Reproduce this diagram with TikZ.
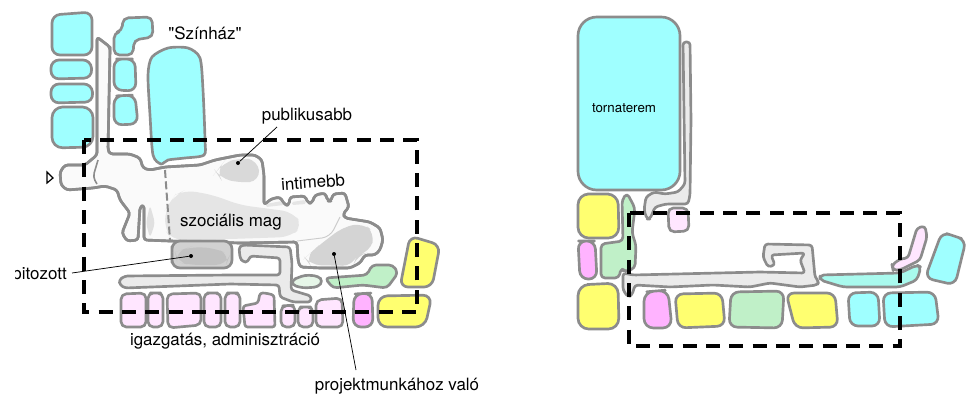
\documentclass[tikz,border=0pt]{standalone}
\usepackage{fontspec}
\usetikzlibrary{calc}
\setmainfont{TeX Gyre Heros}
\newfontfamily\plainquote{TeX Gyre Heros}
\definecolor{wall}{HTML}{8C8C8C}
\definecolor{cy}{HTML}{9FFFFF}
\definecolor{pk}{HTML}{FFE6FF}
\definecolor{mg}{HTML}{FFB3FF}
\definecolor{yl}{HTML}{FFFF70}
\definecolor{gr}{HTML}{C0F0C8}
\tikzset{
 x=.75pt,y=-.75pt,
 room/.style={draw=wall,line width=2pt,line join=round,rounded corners=#1},
 room/.default=6pt,
 cyanroom/.style={room,fill=cy},
 pinkroom/.style={room=4pt,fill=pk},
 magroom/.style={room,fill=mg},
 yelroom/.style={room,fill=yl},
 greenroom/.style={room,fill=gr},
 corr/.style={room=2.2pt,fill=#1},
 corr/.default={black!8},
 patch/.style={fill=#1,rounded corners=8pt},
 frame/.style={draw=black,line width=2.6pt,dash pattern=on 10.5pt off 7pt,line join=miter},
 lab/.style={font=\fontsize{12.7pt}{14pt}\selectfont,inner sep=0pt,text=black},
 lead/.style={draw=black,line width=.55pt},
 dot/.style={circle,fill=black,inner sep=0pt,minimum size=3pt},
}
\newcommand\blob[4][]{\path[#1] ($#2!.5!#3$) -- #3 #4 -- #2 -- cycle;}
\begin{document}
\begin{tikzpicture}
\useasboundingbox (0,0) rectangle (967,397);
% ---- left plan: circulation body
\def\bodyrest{--(110,50)--(108,150)--(110,154)--(130,154)--(140,158)--(143,168)--(150,170)--(165,167)--(200,165)--(215,160)--(240,155)--(255,155)--(262,160)--(264,175)--(264,205)
 --(271,199)--(280,197)--(285,205)--(289,205)--(290,197)--(305,196)--(308,203)--(312,203)--(315,195)--(325,193)--(328,201)--(331,201)--(333,194)--(345,193)--(349,207)--(343,214)
 --(345,218)--(370,222)--(380,228)--(383,240)--(380,250)--(375,255)--(365,255)--(360,263)--(350,268)--(320,268)--(300,267)--(298,260)--(297,242)
 --(240,243)--(170,241)--(144,240)--(144,205)--(140,207)--(138,240)--(127,241)--(122,233)--(130,213)--(120,200)--(117,190)--(105,186)--(93,188)--(67,190)--(61,185)--(60,172)--(65,165)--(85,165)--(97,155)--(97,150)}
\blob[room=2.2pt,fill=black!2]{(97,37)}{(110,47)}{\bodyrest}
\blob[patch={black!10}]{(165,210)}{(175,195)}{--(185,190)--(213,195)--(240,205)--(263,208)--(293,212)--(303,226)--(290,237)--(230,239)--(172,240)--(165,230)}
\blob[patch={black!15}]{(216,172)}{(223,163)}{--(240,158)--(258,160)--(260,181)--(240,183)--(220,178)}
\blob[patch={black!17}]{(305,258)}{(317,247)}{--(343,227)--(363,223)--(375,233)--(370,252)--(357,255)--(353,266)--(310,265)}
\blob[patch={black!12},rounded corners=3pt]{(150,205)}{(155,223)}{--(150,238)--(146,223)}
\blob[patch={black!10},rounded corners=1pt]{(266,204)}{(282,201)}{--(284,205)--(266,207)}
\blob[patch={black!10},rounded corners=1pt]{(292,202)}{(305,200)}{--(306,204)--(292,205)}
\draw[black!20,line width=.7pt,rounded corners=6pt] (340,217)--(330,237)--(297,241);
\blob[room=2.2pt]{(97,37)}{(110,47)}{\bodyrest}
\draw[wall,line width=1.2pt,rounded corners=3pt] (98,160)--(93,177)--(97,184);
\draw[wall,line width=1.5pt,dash pattern=on 6pt off 2.5pt] (165,170)--(170,240);
% grey room
\blob[room=6pt,fill=black!18]{(172,241)}{(172,268)}{--(232,268)--(232,241)}
\blob[patch={black!24}]{(175,252)}{(190,247)}{--(215,248)--(230,255)--(226,265)--(190,265)--(177,262)}
% winding corridor
\blob[corr]{(125,276)}{(230,275)}{--(280,275)--(280,258)--(250,256)--(248,262)--(243,262)--(240,258)--(239,247)--(243,245)--(290,247)--(292,263)--(291,290)--(311,296)--(311,302)--(293,302)--(280,297)--(279,285)--(230,284)--(125,288)--(120,285)--(119,280)}
% green rooms
\blob[room=3pt,fill=black!5!gr!35]{(292,280)}{(305,275)}{--(318,276)--(323,281)--(318,287)--(303,288)--(292,285)}
\blob[room=3pt,fill=gr]{(325,278)}{(367,275)}{--(372,265)--(393,265)--(398,273)--(387,288)--(363,285)--(333,288)}
% cyan rooms
\blob[cyanroom]{(52,15)}{(92,12)}{--(92,55)--(52,55)}
\blob[cyanroom]{(51,60)}{(91,60)}{--(92,78)--(51,79)}
\blob[cyanroom]{(51,84)}{(92,84)}{--(93,102)--(51,103)}
\blob[cyanroom,rounded corners=8pt]{(52,107)}{(93,107)}{--(93,147)--(52,148)}
\blob[room=4pt,fill=cy]{(123,18)}{(152,17)}{--(153,37)--(134,40)--(133,55)--(114,55)--(114,33)--(122,31)}
\blob[cyanroom]{(114,59)}{(135,59)}{--(136,91)--(114,90)}
\blob[cyanroom]{(114,96)}{(135,95)}{--(138,124)--(114,125)}
\draw[room=0pt,rounded corners=0pt,fill=cy] plot[smooth cycle,tension=.45] coordinates {(148,75)(152,57)(168,48)(188,48)(200,58)(203,90)(205,140)(204,155)(185,158)(168,160)(161,164)(153,155)(150,115)};
% pink row
\blob[pinkroom]{(121,294)}{(146,293)}{--(146,327)--(121,327)}
\blob[pinkroom]{(148,293)}{(163,293)}{--(163,327)--(148,327)}
\blob[pinkroom]{(167,294)}{(201,293)}{--(201,325)--(168,328)}
\blob[pinkroom]{(204,293)}{(221,293)}{--(221,327)--(204,327)}
\blob[pinkroom]{(225,293)}{(240,293)}{--(240,327)--(225,327)}
\blob[pinkroom,rounded corners=2pt]{(243,306)}{(258,303)}{--(260,293)--(265,293)--(274,295)--(275,327)--(245,327)}
\blob[pinkroom]{(281,306)}{(295,305)}{--(295,327)--(281,327)}
\blob[pinkroom]{(298,307)}{(313,307)}{--(313,327)--(298,327)}
\blob[pinkroom]{(316,300)}{(342,298)}{--(343,327)--(316,327)}
\blob[magroom]{(354,294)}{(372,293)}{--(373,327)--(353,327)}
\blob[yelroom,rounded corners=7pt]{(378,296)}{(432,295)}{--(425,327)--(378,327)}
\blob[yelroom]{(410,236)}{(440,245)}{--(432,287)--(400,287)}
% ---- right plan
\blob[room=14pt,fill=cy]{(578,17)}{(680,17)}{--(680,190)--(578,190)}
\blob[corr]{(646,197)}{(654,192)}{--(665,194)--(678,192)--(685,184)--(683,42)--(690,42)--(691,120)--(690,195)--(688,204)--(666,204)--(655,207)--(650,219)--(647,219)--(644,210)}
\blob[pinkroom]{(668,208)}{(688,208)}{--(689,231)--(669,232)}
\blob[yelroom,rounded corners=8pt]{(578,194)}{(618,194)}{--(619,238)--(578,238)}
\blob[magroom]{(578,241)}{(595,241)}{--(597,279)--(580,279)}
\blob[corr]{(623,273)}{(633,275)}{--(760,272)--(805,273)--(800,260)--(805,253)--(771,255)--(775,265)--(768,267)--(763,257)--(765,244)--(812,245)--(815,277)--(819,282)--(817,285)--(800,287)--(770,283)--(750,287)--(713,285)--(670,287)--(635,285)--(632,295)--(628,297)--(623,290)}
\blob[room=3pt,fill=gr]{(601,244)}{(623,241)}{--(622,200)--(627,193)--(635,208)--(632,233)--(636,245)--(635,268)--(625,272)--(621,268)--(619,278)--(601,278)}
\blob[yelroom,rounded corners=8pt]{(578,285)}{(618,283)}{--(619,329)--(578,329)}
\blob[magroom,rounded corners=7pt]{(644,292)}{(668,290)}{--(672,328)--(644,328)}
\blob[yelroom]{(675,294)}{(722,293)}{--(725,326)--(678,328)}
\blob[greenroom]{(731,292)}{(784,291)}{--(782,328)--(729,327)}
\blob[yelroom]{(786,293)}{(835,293)}{--(838,327)--(795,328)}
\blob[room=3pt,fill=cy!70!gr]{(820,275)}{(900,273)}{--(917,265)--(921,267)--(917,280)--(900,287)--(843,287)--(820,280)}
\blob[room=2.5pt,fill=pk]{(893,270)}{(892,265)}{--(900,259)--(908,258)--(917,228)--(925,226)--(927,237)--(920,260)--(900,270)}
\blob[cyanroom]{(942,232)}{(966,240)}{--(955,285)--(925,278)}
\blob[cyanroom]{(848,293)}{(878,292)}{--(880,326)--(850,326)}
\blob[cyanroom]{(883,293)}{(935,292)}{--(939,324)--(885,327)}
% ---- frames
\draw[frame] (84,140) rectangle (417,312);
\draw[frame] (629,213) rectangle (900,346);
% ---- labels
\node[lab] (szinhaz) at (205,33) {\plainquote "Színház"};
\node[lab] (publ) at (307,116) {publikusabb};
\node[lab,rotate=4] (intim) at (313,182) {intimebb};
\node[lab] (szoc) at (231,222) {szociális mag};
\begin{scope}
\clip (15,260) rectangle (80,290);
\node[lab,anchor=east] (pit) at (67,275) {pitozott};
\end{scope}
\node[lab] (igaz) at (225,341) {igazgatás, adminisztráció};
\node[lab] (proj) at (397,386) {projektmunkához való};
\node[lab,font=\fontsize{10pt}{11pt}\selectfont] (torna) at (624,108) {tornaterem};
% ---- leaders
\node[dot] (d1) at (238,163) {};
\node[dot] (d2) at (191,256) {};
\node[dot] (d3) at (334,254) {};
\coordinate (p1) at (277,127);
\coordinate (p2) at (72,273);
\coordinate (p3) at (356,370);
\draw[lead] (p1)--(d1);
\draw[lead] (p2)--(d2);
\draw[lead] (p3)--(d3);
\draw[line width=.9pt,line join=miter,fill=white] (47,172)--(53,178)--(47,183)--cycle;
\end{tikzpicture}
\end{document}
